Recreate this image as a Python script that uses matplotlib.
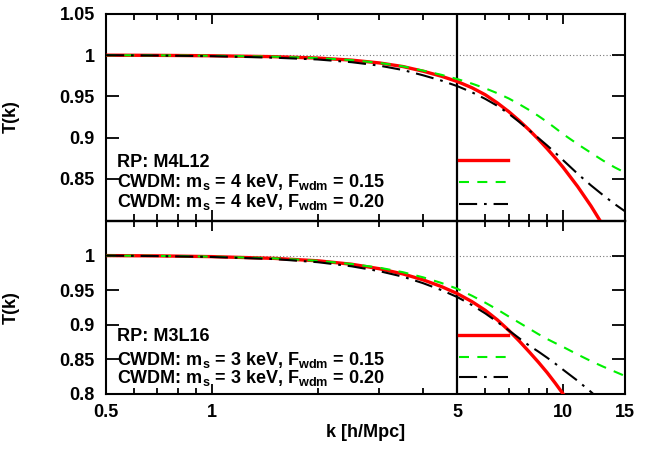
import matplotlib
matplotlib.use('Agg')
import matplotlib.pyplot as plt
from matplotlib.ticker import FixedLocator, FixedFormatter, NullFormatter, NullLocator
from matplotlib.lines import Line2D

# 공통 k 격자 [h/Mpc]
k = [0.5, 0.7, 1, 1.5, 2, 2.5, 3, 3.5, 4, 4.5, 5, 5.5, 6, 6.5, 7, 7.5,
     8, 8.5, 9, 9.5, 10, 11, 12, 13, 14, 15]

# 위 패널 : M4L12 / m_s = 4 keV
k_rp_top = k[:24]
t_rp_top = [1.0000, 0.9998, 0.9993, 0.9982, 0.9965, 0.9940, 0.9906, 0.9862,
            0.9805, 0.9745, 0.9680, 0.9605, 0.9520, 0.9420, 0.9315, 0.9205,
            0.9093, 0.8980, 0.8866, 0.8752, 0.8638, 0.8405, 0.8170, 0.7930]
t_w15_top = [1.0000, 0.9998, 0.9993, 0.9982, 0.9965, 0.9940, 0.9906, 0.9864,
             0.9812, 0.9762, 0.9710, 0.9655, 0.9598, 0.9538, 0.9475, 0.9405,
             0.9335, 0.9263, 0.9190, 0.9115, 0.9042, 0.8920, 0.8815, 0.8720,
             0.8640, 0.8575]
t_w20_top = [1.0000, 0.9996, 0.9988, 0.9970, 0.9948, 0.9915, 0.9873, 0.9820,
             0.9755, 0.9692, 0.9624, 0.9550, 0.9470, 0.9385, 0.9290, 0.9190,
             0.9090, 0.8995, 0.8905, 0.8815, 0.8725, 0.8560, 0.8420, 0.8300,
             0.8195, 0.8105]

# 아래 패널 : M3L16 / m_s = 3 keV
k_rp_bot = k[:20] + [10, 10.5]
t_rp_bot = [1.0000, 0.9996, 0.9985, 0.9960, 0.9925, 0.9875, 0.9810, 0.9735,
            0.9648, 0.9553, 0.9450, 0.9335, 0.9210, 0.9070, 0.8920, 0.8765,
            0.8610, 0.8460, 0.8310, 0.8155, 0.8000, 0.7845]
t_w15_bot = [1.0000, 0.9996, 0.9985, 0.9960, 0.9925, 0.9878, 0.9825, 0.9760,
             0.9685, 0.9605, 0.9520, 0.9420, 0.9320, 0.9220, 0.9120, 0.9030,
             0.8945, 0.8865, 0.8795, 0.8735, 0.8680, 0.8570, 0.8475, 0.8395,
             0.8325, 0.8260]
k_w20_bot = k[:24]
t_w20_bot = [1.0000, 0.9993, 0.9980, 0.9950, 0.9905, 0.9845, 0.9775, 0.9695,
             0.9600, 0.9502, 0.9400, 0.9285, 0.9165, 0.9040, 0.8920, 0.8805,
             0.8700, 0.8613, 0.8525, 0.8438, 0.8350, 0.8190, 0.8030, 0.7870]

# 라벨
rp_top = 'RP: M4L12'
rp_bot = 'RP: M3L16'
cw_top = [r'CWDM: m$_{s}$ = 4 keV, F$_{wdm}$ = 0.15',
          r'CWDM: m$_{s}$ = 4 keV, F$_{wdm}$ = 0.20']
cw_bot = [r'CWDM: m$_{s}$ = 3 keV, F$_{wdm}$ = 0.15',
          r'CWDM: m$_{s}$ = 3 keV, F$_{wdm}$ = 0.20']

major_k = [1, 10]
minor_k = [0.5, 0.6, 0.7, 0.8, 0.9, 2, 3, 4, 5, 6, 7, 8, 9, 15]
minor_lbl = ['0.5', '', '', '', '', '', '', '', '5', '', '', '', '', '15']

yt_top = [0.85, 0.9, 0.95, 1.0, 1.05]
yl_top = ['0.85', '0.9', '0.95', '1', '1.05']
yt_bot = [0.8, 0.85, 0.9, 0.95, 1.0]
yl_bot = ['0.8', '0.85', '0.9', '0.95', '1']

FS = 13

plt.rcParams['font.family'] = ['Liberation Sans', 'DejaVu Sans']
plt.rcParams['font.weight'] = 'bold'
plt.rcParams['font.size'] = FS
plt.rcParams['mathtext.fontset'] = 'custom'
plt.rcParams['mathtext.rm'] = 'Liberation Sans:bold'
plt.rcParams['mathtext.it'] = 'Liberation Sans:bold'
plt.rcParams['mathtext.bf'] = 'Liberation Sans:bold'

styles = [dict(color='#ff0000', lw=2.4, ls='-'),
          dict(color='#00f000', lw=1.5, dashes=(4.8, 4.0)),
          dict(color='black', lw=1.5, dashes=(8.7, 3.3, 1.3, 3.3))]

fig = plt.figure(figsize=(6.5, 4.51), dpi=100)
ax1 = fig.add_axes([0.1631, 0.5122, 0.7985, 0.4568])
ax2 = fig.add_axes([0.1631, 0.1264, 0.7985, 0.3836])


def setup(ax, yt, yl, show_x):
    ax.set_xscale('log')
    ax.set_xlim(0.5, 15)
    ax.set_ylim(0.8, 1.05)
    ax.xaxis.set_major_locator(FixedLocator(major_k))
    ax.xaxis.set_minor_locator(FixedLocator(minor_k))
    if show_x:
        ax.xaxis.set_major_formatter(FixedFormatter(['1', '10']))
        ax.xaxis.set_minor_formatter(FixedFormatter(minor_lbl))
    else:
        ax.xaxis.set_major_formatter(NullFormatter())
        ax.xaxis.set_minor_formatter(NullFormatter())
    ax.set_yticks(yt)
    ax.set_yticklabels(yl)
    ax.yaxis.set_minor_locator(NullLocator())
    ax.tick_params(which='both', direction='in', top=True, right=True,
                   width=1.3, labelsize=FS)
    ax.tick_params(axis='x', which='major', length=7, pad=7)
    ax.tick_params(axis='x', which='minor', length=4.3, pad=7)
    ax.tick_params(axis='y', which='major', length=9.5, pad=8)
    for s in ax.spines.values():
        s.set_linewidth(1.5)
    ax.axhline(1.0, color='#777777', lw=0.8, ls=(0, (1, 2)), zorder=1)
    ax.axvline(5, color='black', lw=1.6, zorder=2)
    ax.set_ylabel('T(k)', fontsize=FS, fontweight='bold')
    ax.yaxis.set_label_coords(-0.166, 0.5)


def key(ax, texts, ys_text, ys_line):
    for txt, y in zip(texts, ys_text):
        ax.text(0.021, y, txt, transform=ax.transAxes,
                ha='left', va='baseline', fontsize=FS, fontweight='bold')
    for y, st in zip(ys_line, styles):
        ax.add_line(Line2D([0.680, 0.775], [y, y], transform=ax.transAxes,
                           zorder=4, **st))


setup(ax1, yt_top, yl_top, False)
ax1.spines['bottom'].set_linewidth(1.0)
ax1.plot(k_rp_top, t_rp_top, zorder=3, **styles[0])
ax1.plot(k, t_w15_top, zorder=3, **styles[1])
ax1.plot(k, t_w20_top, zorder=3, **styles[2])
key(ax1, [rp_top] + cw_top, [0.259, 0.162, 0.065], [0.291, 0.184, 0.078])

setup(ax2, yt_bot, yl_bot, True)
ax2.spines['top'].set_linewidth(1.0)
ax2.plot(k_rp_bot, t_rp_bot, zorder=3, **styles[0])
ax2.plot(k, t_w15_bot, zorder=3, **styles[1])
ax2.plot(k_w20_bot, t_w20_bot, zorder=3, **styles[2])
key(ax2, [rp_bot] + cw_bot, [0.308, 0.168, 0.062], [0.341, 0.216, 0.096])

ax2.set_xlabel('k [h/Mpc]', fontsize=FS, fontweight='bold')
ax2.xaxis.set_label_coords(0.5, -0.225)
ax2.xaxis.label.set_verticalalignment('center')

fig.savefig('out.png', dpi=100)
